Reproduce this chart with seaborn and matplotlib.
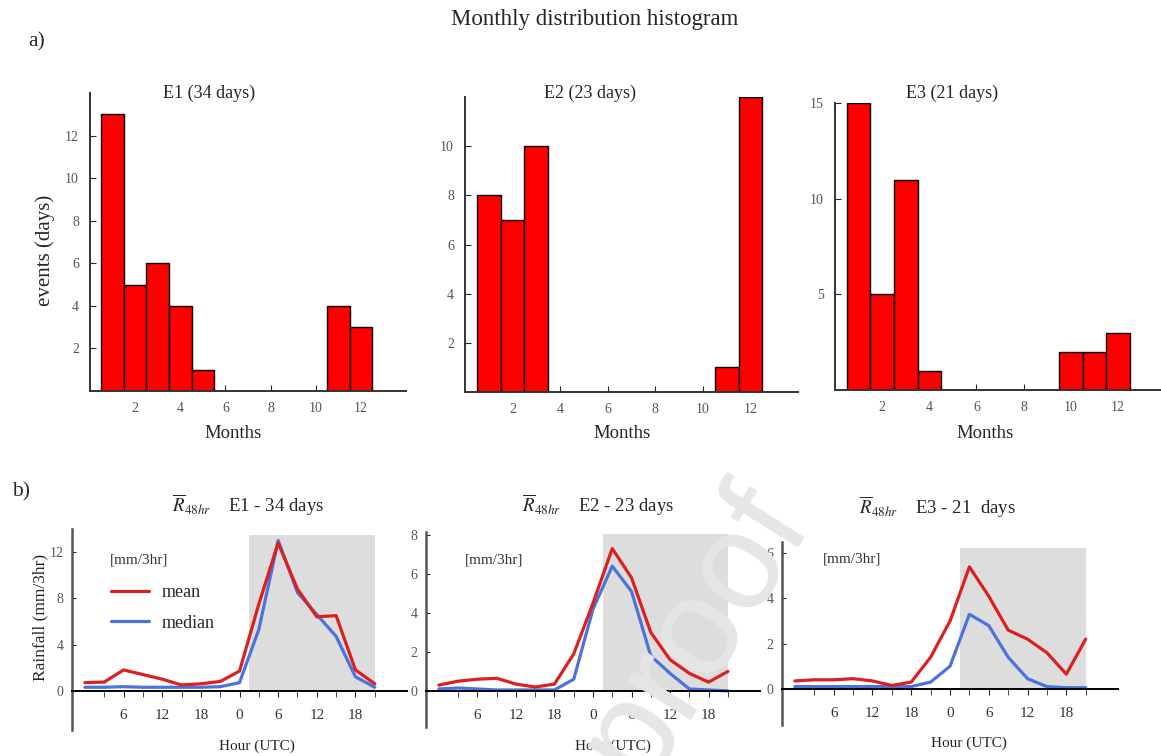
import numpy as np
import pandas as pd
import seaborn as sns
import matplotlib.pyplot as plt

sns.set_style("ticks")
plt.rcParams["font.family"] = ["Liberation Serif", "DejaVu Serif"]
plt.rcParams["mathtext.fontset"] = "stix"
# ----------------------------------------------------------------------------------------------------------------------

# Monthly histogram data (days per month)
months = list(range(1, 13))
e1_counts = [13, 5, 6, 4, 1, 0, 0, 0, 0, 0, 4, 3]
e2_counts = [8, 7, 10, 0, 0, 0, 0, 0, 0, 0, 1, 12]
e3_counts = [15, 5, 11, 1, 0, 0, 0, 0, 0, 2, 2, 3]

# 48 hour composite rainfall (mm/3hr), every 3 hours
hours = list(range(0, 48, 3))
e1_mean = [0.7, 0.75, 1.8, 1.4, 1.0, 0.5, 0.6, 0.8, 1.7, 7.5, 12.8, 8.8, 6.4, 6.5, 1.8, 0.6]
e1_median = [0.3, 0.3, 0.35, 0.3, 0.3, 0.3, 0.3, 0.35, 0.7, 5.3, 13.0, 8.5, 6.6, 4.7, 1.2, 0.3]
e2_mean = [0.3, 0.5, 0.6, 0.65, 0.35, 0.2, 0.35, 1.9, 4.5, 7.3, 5.8, 3.0, 1.6, 0.9, 0.45, 1.0]
e2_median = [0.1, 0.15, 0.1, 0.05, 0.05, 0.05, 0.05, 0.6, 4.2, 6.4, 5.1, 1.8, 0.9, 0.1, 0.05, 0.0]
e3_mean = [0.35, 0.4, 0.4, 0.45, 0.35, 0.15, 0.3, 1.4, 3.0, 5.4, 4.1, 2.6, 2.2, 1.6, 0.65, 2.2]
e3_median = [0.1, 0.1, 0.1, 0.1, 0.1, 0.1, 0.1, 0.3, 1.0, 3.3, 2.8, 1.4, 0.45, 0.1, 0.05, 0.05]

hist_titles = ["E1 (34 days)", "E2 (23 days)", "E3 (21 days)"]
rain_titles = ["E1 - 34 days", "E2 - 23 days", "E3 - 21  days"]
hour_ticks = [6, 12, 18, 24, 30, 36, 42]
hour_labels = ["6", "12", "18", "0", "6", "12", "18"]

W, H = 1161, 756
RED = "#dc1f1f"
BLUE = "#4a74dc"
TICK_GREY = "#555555"


def px_axes(fig, left, top, right, bottom):
    """ Add an axes from pixel box coordinates """
    return fig.add_axes([left / W, 1 - bottom / H, (right - left) / W, (bottom - top) / H])


def px_text(fig, x, y, s, **kw):
    """ Place a figure text by pixel coordinates """
    kw.setdefault("ha", "center")
    kw.setdefault("va", "center")
    return fig.text(x / W, 1 - y / H, s, **kw)


fig = plt.figure(figsize=(W / 100, H / 100), dpi=100)

# ---------------------------------------------------------------- a) monthly histograms
hist_boxes = [(90, 93, 406, 391), (465, 97, 798, 392), (835, 103, 1165, 390)]
hist_ylims = [14, 12, 15]
hist_yticks = [[2, 4, 6, 8, 10, 12], [2, 4, 6, 8, 10], [5, 10, 15]]
hist_title_pos = [(209, 93), (590, 93), (952, 93)]
months_pos = [(233, 433), (622, 433), (985, 433)]

for i, counts in enumerate([e1_counts, e2_counts, e3_counts]):
    ax = px_axes(fig, *hist_boxes[i])
    df = pd.DataFrame({"month": months, "days": counts})
    sns.barplot(data=df, x="month", y="days", native_scale=True, width=1, color="#ff0000",
                saturation=1, edgecolor="black", linewidth=1, ax=ax)
    ax.set_xlim(0, 14)
    ax.set_ylim(0, hist_ylims[i])
    ax.set_xticks([2, 4, 6, 8, 10, 12])
    ax.set_yticks(hist_yticks[i])
    ax.set_xlabel("")
    ax.set_ylabel("")
    ax.tick_params(direction="in", length=4, labelsize=10, labelcolor=TICK_GREY, pad=8)
    sns.despine(ax=ax)
    for side in ["left", "bottom"]:
        ax.spines[side].set_linewidth(1.4)
        ax.spines[side].set_color("#333333")
    px_text(fig, *hist_title_pos[i], hist_titles[i], fontsize=13)
    px_text(fig, *months_pos[i], "Months", fontsize=13.5)

px_text(fig, 45, 250, "events (days)", fontsize=15, rotation=90)

# ---------------------------------------------------------------- b) rainfall composites
rain_boxes = [(72, 529, 407, 730), (426, 532, 760, 727), (782, 542, 1118, 725)]
rain_ylims = [(-3.4, 14), (-1.85, 8.15), (-1.6, 6.5)]
rain_yticks = [[0, 4, 8, 12], [0, 2, 4, 6, 8], [0, 2, 4, 6]]
shade_top = [13.5, 8.05, 6.25]
rain_title_pos = [(248, 505), (598, 505), (937, 507)]
unit_pos = [(110, 560), (465, 560), (823, 559)]
hour_pos = [(257, 746), (613, 746), (969, 743)]

series = [(e1_mean, e1_median), (e2_mean, e2_median), (e3_mean, e3_median)]
for i, (mean_vals, median_vals) in enumerate(series):
    ax = px_axes(fig, *rain_boxes[i])
    ax.fill_between([25.5, 45], 0, shade_top[i], color="#dddddd", lw=0, zorder=0)
    sns.lineplot(x=hours, y=mean_vals, color=RED, lw=2.3, label="mean", ax=ax, zorder=3)
    sns.lineplot(x=hours, y=median_vals, color=BLUE, lw=2.3, label="median", ax=ax, zorder=2)
    ax.set_xlim(-2, 50)
    ax.set_ylim(*rain_ylims[i])
    ax.set_xticks(hour_ticks)
    ax.set_xticklabels(hour_labels)
    ax.set_xticks(list(range(3, 49, 6)), minor=True)
    ax.set_yticks(rain_yticks[i])
    ax.spines["bottom"].set_position(("data", 0))
    sns.despine(ax=ax)
    ax.spines["bottom"].set_linewidth(1.4)
    ax.spines["bottom"].set_color("black")
    ax.spines["left"].set_linewidth(1.8)
    ax.spines["left"].set_color("#555555")
    ax.tick_params(axis="x", which="both", direction="out", length=4, labelsize=11,
                   labelcolor="#333333", pad=9)
    ax.tick_params(axis="y", direction="in", length=3, labelsize=10, labelcolor=TICK_GREY, pad=6)
    if i == 0:
        ax.legend(loc="upper left", bbox_to_anchor=(0.09, 0.77), frameon=False, fontsize=13,
                  handlelength=2.1, labelspacing=0.75, borderpad=0, handletextpad=0.7)
    else:
        ax.get_legend().remove()
    px_text(fig, *rain_title_pos[i], r"$\overline{R}_{48hr}$    " + rain_titles[i], fontsize=13.5)
    px_text(fig, *unit_pos[i], "[mm/3hr]", fontsize=11, ha="left", color="#333333")
    px_text(fig, *hour_pos[i], "Hour (UTC)", fontsize=11)

px_text(fig, 40, 617, "Rainfall (mm/3hr)", fontsize=12.5, rotation=90)

# ---------------------------------------------------------------- figure labels
px_text(fig, 595, 19, "Monthly distribution histogram", fontsize=16.5)
px_text(fig, 37, 42, "a)", fontsize=15.5)
px_text(fig, 21, 492, "b)", fontsize=15.5)

# proof watermark
px_text(fig, 695, 632, "proof", fontsize=100, rotation=58, color="#e6e6e6",
        family="Liberation Sans", zorder=10)

fig.savefig("out.png", dpi=100)
